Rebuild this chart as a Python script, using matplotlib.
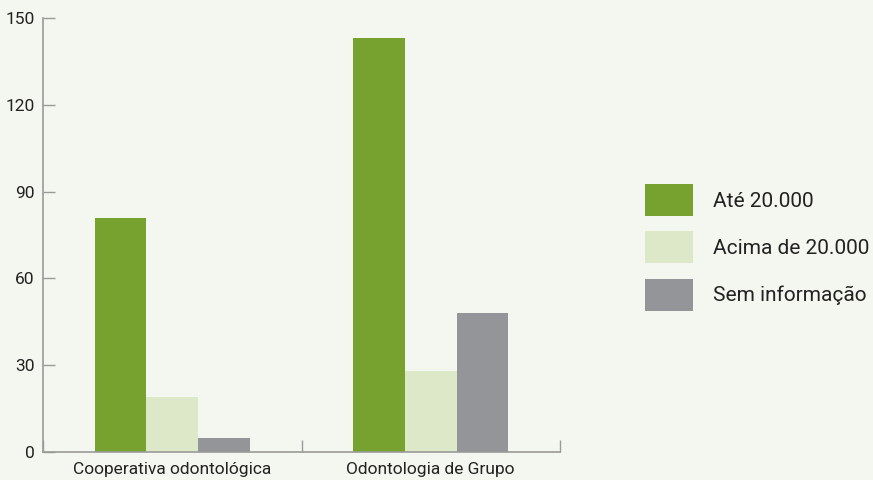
import numpy as np
import matplotlib.pyplot as plt
from matplotlib.ticker import FixedLocator

# --- dados ---
categorias = ['Cooperativa odontológica', 'Odontologia de Grupo']
series = ['Até 20.000', 'Acima de 20.000', 'Sem informação']
ate_20000 = [81, 143]
acima_20000 = [19, 28]
sem_info = [5, 48]
yticks = [0, 30, 60, 90, 120, 150]

cores = ['#78a22f', '#dde8c9', '#939598']
fundo = '#f4f7ef'
eixo = '#9a9a9a'

plt.rcParams['font.family'] = ['Roboto', 'DejaVu Sans']

fig = plt.figure(figsize=(8.73, 4.8), dpi=100, facecolor=fundo)
ax = fig.add_axes([43 / 873, 1 - 452 / 480, (560 - 43) / 873, (452 - 18) / 480])
ax.set_facecolor(fundo)

x = np.arange(len(categorias))
w = 0.2
for i, (vals, nome) in enumerate(zip([ate_20000, acima_20000, sem_info], series)):
    ax.bar(x + (i - 1) * w, vals, width=w, color=cores[i], label=nome, linewidth=0)

ax.set_xlim(-0.5, 1.5)
ax.set_ylim(0, 150)
ax.set_yticks(yticks)
ax.set_xticks(x)
ax.set_xticklabels(categorias)
ax.xaxis.set_minor_locator(FixedLocator([-0.5, 0.5, 1.5]))

for s in ['top', 'right']:
    ax.spines[s].set_visible(False)
for s in ['left', 'bottom']:
    ax.spines[s].set_color(eixo)
    ax.spines[s].set_linewidth(1.2)

ax.tick_params(axis='y', direction='in', length=8.5, width=1, color=eixo,
               pad=6, labelsize=12.5, labelcolor='#222222')
ax.tick_params(axis='x', which='major', length=0, pad=7, labelsize=12.5, labelcolor='#222222')
ax.tick_params(axis='x', which='minor', direction='in', length=8.5, width=1, color=eixo)

fig.legend(loc='upper left', bbox_to_anchor=(645 / 873, 1 - 184 / 480), frameon=False,
           borderpad=0, borderaxespad=0, handlelength=2.3, handleheight=1.97,
           handletextpad=0.96, labelspacing=0.75, fontsize=15, labelcolor='#222222')

fig.savefig('out.png', dpi=100, facecolor=fundo)
